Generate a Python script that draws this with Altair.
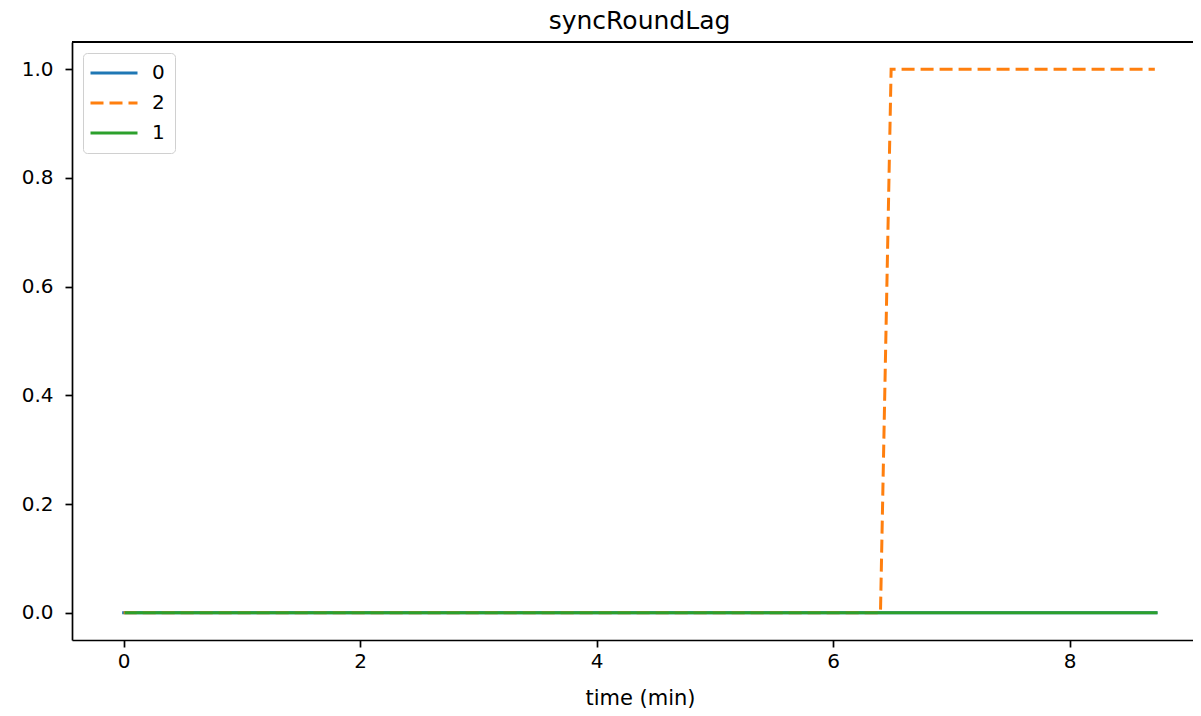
import altair as alt
import pandas as pd

# series "0"
t_0 = [0.0, 8.73]
v_0 = [0.0, 0.0]
# series "2"
t_2 = [0.0, 6.40, 6.49, 8.72]
v_2 = [0.0, 0.0, 1.0, 1.0]
# series "1"
t_1 = [0.02, 8.73]
v_1 = [0.0, 0.0]

series_order = ["0", "2", "1"]
colors = ["#1f77b4", "#ff7f0e", "#2ca02c"]
dashes = [[1, 0], [13, 6], [1, 0]]
x_ticks = [0, 2, 4, 6, 8]
y_ticks = [0.0, 0.2, 0.4, 0.6, 0.8, 1.0]

rows = []
for name, ts, vs in [("0", t_0, v_0), ("2", t_2, v_2), ("1", t_1, v_1)]:
    for t, v in zip(ts, vs):
        rows.append({"series": name, "time": t, "value": v})
df = pd.DataFrame(rows)

FONT = "DejaVu Sans"
W = 1121
H = 598

x_enc = alt.X(
    "time:Q",
    scale=alt.Scale(domain=[-0.437, -0.437 + W / 118.25], nice=False, zero=False),
    axis=alt.Axis(values=x_ticks, title="time (min)", format="d", labelPadding=4,
                  titlePadding=16, titleX=568),
)
y_enc = alt.Y(
    "value:Q",
    scale=alt.Scale(domain=[-0.05, 1.05], nice=False, zero=False),
    axis=alt.Axis(values=y_ticks, title=None, format=".1f", labelPadding=12),
)
color_enc = alt.Color(
    "series:N",
    scale=alt.Scale(domain=series_order, range=colors),
    legend=alt.Legend(
        title=None,
        orient="none",
        legendX=11,
        legendY=11,
        symbolType="M-4.7,0H4.7",
        symbolSize=100,
        symbolStrokeWidth=3,
        symbolOffset=11,
        labelFontSize=20,
        labelFont=FONT,
        labelOffset=28,
        rowPadding=10,
        padding=10,
        strokeColor="#d0d0d0",
        fillColor="white",
        cornerRadius=4,
    ),
)
dash_enc = alt.StrokeDash(
    "series:N",
    scale=alt.Scale(domain=series_order, range=dashes),
    legend=None,
)

layers = []
for name in series_order:
    cap = "butt" if name == "2" else "square"
    layers.append(
        alt.Chart(df)
        .transform_filter(alt.datum.series == name)
        .mark_line(strokeWidth=3, strokeCap=cap, clip=True)
        .encode(x=x_enc, y=y_enc, color=color_enc, strokeDash=dash_enc)
    )

top_spine = alt.Chart(df).mark_rule(color="black", strokeWidth=1.7).encode(
    x=alt.value(0), x2=alt.value(W), y=alt.value(0)
)

chart = (
    alt.layer(*layers, top_spine)
    .properties(
        width=W,
        height=H,
        title=alt.TitleParams("syncRoundLag", fontSize=25, font=FONT, fontWeight="normal",
                              offset=7, dx=7, color="black"),
        autosize=alt.AutoSizeParams(type="none"),
        padding={"left": 64, "top": 34, "right": 0, "bottom": 70},
    )
    .configure_view(stroke=None)
    .configure_axis(
        grid=False,
        domain=True,
        domainColor="black",
        domainWidth=1.7,
        tickColor="black",
        tickWidth=1.7,
        tickSize=7,
        labelFontSize=20,
        labelFont=FONT,
        labelColor="black",
        titleFontSize=21,
        titleFont=FONT,
        titleFontWeight="normal",
        titleColor="black",
    )
)

chart.save("out.html", embed_options={"renderer": "svg", "actions": False})
